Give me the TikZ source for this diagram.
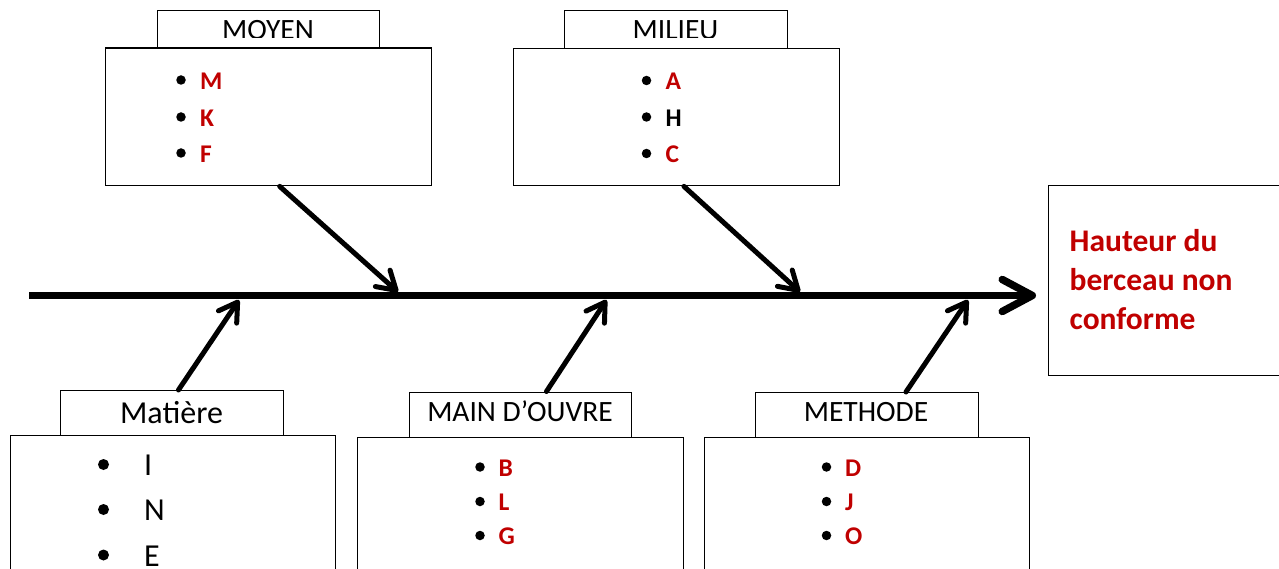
\documentclass[tikz,border=0pt]{standalone}
\usepackage{fontspec}
\setmainfont{Carlito}
\usetikzlibrary{arrows.meta}
\definecolor{causered}{HTML}{C00000}
\tikzset{
  framebox/.style={draw, line width=1.4pt, fill=white, inner sep=0pt, anchor=north west},
  headtext/.style={font=\fontsize{29.5}{32}\selectfont, inner sep=0pt, anchor=base},
  item/.style={font=\fontsize{25.5}{28}\selectfont\bfseries, text=causered, inner sep=0pt, anchor=west},
  itemblack/.style={font=\fontsize{25.5}{28}\selectfont\bfseries, inner sep=0pt, anchor=west},
  bigitem/.style={font=\fontsize{32}{36}\selectfont, inner sep=0pt, anchor=west},
  dot/.style={circle, fill=black, inner sep=0pt, minimum size=9.5pt},
  bigdot/.style={circle, fill=black, inner sep=0pt, minimum size=11pt},
  bone/.style={line width=5pt, line cap=round, -{Straight Barb[length=18pt, width=22pt, round]}},
  spine/.style={line width=7.5pt, -{Straight Barb[length=30pt, width=32pt, round]}},
}
\begin{document}
\begin{tikzpicture}[x=1pt, y=-1pt]
\useasboundingbox (0,0) rectangle (1279,569);
\clip (0,0) rectangle (1279,569);

% main axis
\coordinate (tail) at (29,295.5);
\coordinate (head) at (1036,295.5);
\draw[spine] (tail) -- (head);

% effect
\node[framebox, minimum width=250pt, minimum height=190pt] (effect) at (1047.5,185) {};
\node[font=\fontsize{31.5}{39}\selectfont\bfseries, text=causered, align=left, anchor=base west, inner sep=0pt]
  (effecttext) at (1069.5,329) {Hauteur du\\berceau non\\conforme};

% upper causes: MOYEN
\node[framebox, minimum width=222.5pt, minimum height=37pt] (moyenhead) at (156.5,10) {};
\begin{scope}
  \clip (156.5,10) rectangle (379,37.5);
  \node[headtext] (moyentitle) at (268,39.5) {MOYEN};
\end{scope}
\node[framebox, minimum width=326pt, minimum height=137.5pt] (moyen) at (105,47.5) {};
\foreach \t/\y [count=\i] in {M/80, K/117, F/153}{
  \node[dot] (moyendot\i) at (181,\y) {};
  \node[item] (moyenitem\i) at (200,\y+1) {\t};
}

% upper causes: MILIEU
\node[framebox, minimum width=222.5pt, minimum height=38pt] (milieuhead) at (564,10) {};
\begin{scope}
  \clip (564,10) rectangle (787,37.5);
  \node[headtext] (milieutitle) at (675.5,39.5) {MILIEU};
\end{scope}
\node[framebox, minimum width=325.5pt, minimum height=137pt] (milieu) at (513,48) {};
\node[dot] (milieudot1) at (646.5,80.5) {};
\node[item] (milieuitem1) at (665.5,81.5) {A};
\node[dot] (milieudot2) at (646.5,117) {};
\node[itemblack] (milieuitem2) at (665.5,118) {H};
\node[dot] (milieudot3) at (646.5,153.5) {};
\node[item] (milieuitem3) at (665.5,154.5) {C};

% lower causes: Matière
\node[framebox, minimum width=222.5pt, minimum height=45pt] (matierehead) at (60,390) {};
\node[headtext, font=\fontsize{32}{36}\selectfont] (matieretitle) at (171.5,423) {Matière};
\node[framebox, minimum width=325pt, minimum height=150pt] (matiere) at (9.5,435) {};
\foreach \t/\y [count=\i] in {I/464.5, N/509.5, E/555}{
  \node[bigdot] (matieredot\i) at (103.5,\y) {};
  \node[bigitem] (matiereitem\i) at (144,\y+1) {\t};
}

% lower causes: MAIN D'OUVRE
\node[framebox, minimum width=222.5pt, minimum height=45.5pt] (mainhead) at (408.5,391.5) {};
\node[headtext] (maintitle) at (520,421) {MAIN D’OUVRE};
\node[framebox, minimum width=326pt, minimum height=150pt] (main) at (357,437) {};
\foreach \t/\y [count=\i] in {B/467, L/501.5, G/535.5}{
  \node[dot] (maindot\i) at (480,\y) {};
  \node[item] (mainitem\i) at (498.5,\y+1) {\t};
}

% lower causes: METHODE
\node[framebox, minimum width=222.5pt, minimum height=45pt] (methodehead) at (755,392) {};
\node[headtext] (methodetitle) at (866,421) {METHODE};
\node[framebox, minimum width=325pt, minimum height=150pt] (methode) at (704,437) {};
\foreach \t/\y [count=\i] in {D/467, J/501.5, O/535.5}{
  \node[dot] (methodedot\i) at (826.5,\y) {};
  \node[item] (methodeitem\i) at (845,\y+1) {\t};
}

% branches into the axis
\coordinate (j1) at (398,292);
\coordinate (j2) at (800,292);
\coordinate (j3) at (239,300);
\coordinate (j4) at (606.5,300);
\coordinate (j5) at (968,300);
\draw[bone] ([xshift=11pt]moyen.south) -- (j1);
\draw[bone] ([xshift=7.5pt]milieu.south) -- (j2);
\draw[bone] ([xshift=6.5pt]matierehead.north) -- (j3);
\draw[bone] ([xshift=26pt]mainhead.north) -- (j4);
\draw[bone] ([xshift=39pt]methodehead.north) -- (j5);
\end{tikzpicture}
\end{document}
